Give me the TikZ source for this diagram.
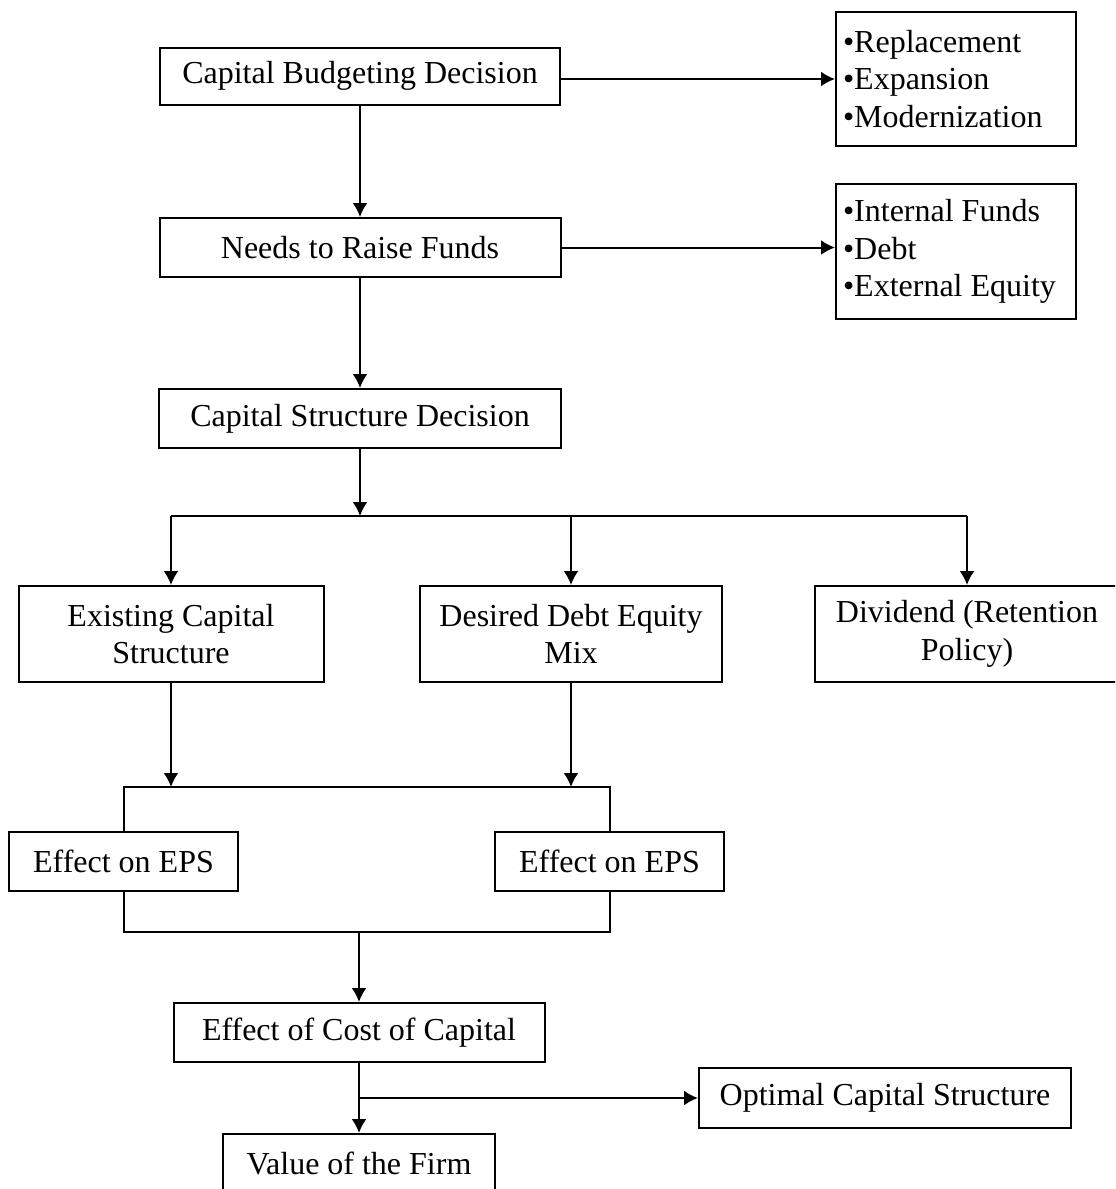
\documentclass[tikz,border=0pt]{standalone}
\usepackage{fontspec}
\setmainfont{Liberation Serif}
\usepackage{tikz}
\usetikzlibrary{shapes,arrows.meta,calc}
\tikzstyle{arrow} = [draw, -{Latex[length=7pt, width=7.5pt]}]
\tikzstyle{line} = [draw]
\tikzstyle{block} = [draw, rectangle, fill=white, align=center, minimum height=29.5pt, inner sep=2pt]
\tikzstyle{listblock} = [draw, rectangle, align=flush left, anchor=west, text width=113pt, inner xsep=3.5pt, inner ysep=0pt]

\begin{document}
\begin{tikzpicture}[x=0.5pt, y=-0.5pt, line width=1pt, font=\fontsize{16}{18.75}\selectfont]
      \useasboundingbox (0,0) rectangle (1115,1189);
      \clip (0,0) rectangle (1115,1189);

      % decisions
      \node (cbd) at (360, 76) [block, minimum width=200pt, minimum height=28.5pt] {Capital Budgeting Decision};
      \node (nrf) at (360, 247.5) [block, minimum width=200.5pt] {Needs to Raise Funds};
      \node (csd) at (360, 418.5) [block, minimum width=201pt] {Capital Structure Decision};

      % lists
      \node (types) at (835, 79) [listblock, minimum height=67pt] {•Replacement\\•Expansion\\•Modernization};
      \node (funds) at (835, 251.5) [listblock, minimum height=67.5pt] {•Internal Funds\\•Debt\\•External Equity};

      % three factors
      \node (ecs) at (171, 634) [block, minimum width=152.5pt, minimum height=48pt] {Existing Capital\\Structure};
      \node (dde) at (571, 634) [block, minimum width=151pt, minimum height=48pt] {Desired Debt Equity\\Mix};
      \node (div) at (967, 634) [block, minimum width=152pt, minimum height=48pt] {Dividend (Retention\\Policy)};

      \node (eps1) at (123.5, 861.5) [block, minimum width=114.5pt] {Effect on EPS};
      \node (eps2) at (609.5, 861.5) [block, minimum width=114.5pt] {Effect on EPS};

      \node (cost) at (359, 1032.5) [block, minimum width=185.5pt] {Effect of Cost of Capital};
      \node (opt) at (885, 1098) [block, minimum width=186pt, minimum height=30pt] {Optimal Capital Structure};
      \node (val) at (359, 1163) [block, minimum width=136pt, minimum height=29pt] {Value of the Firm};

      \coordinate (split) at (360, 516);
      \coordinate (brtop) at (360, 787);
      \coordinate (brbot) at (359, 932);

      \path[arrow] (cbd.east |- types.west) -- (types.west);
      \path[arrow] (nrf.east) -- (nrf.east -| funds.west);
      \path[arrow] (cbd.south) -- (nrf.north);
      \path[arrow] (nrf.south) -- (csd.north);
      \path[arrow] (csd.south) -- (split);
      \path[line] (split -| ecs.north) -- (split -| div.north);
      \path[arrow] (split -| ecs.north) -- (ecs.north);
      \path[arrow] (split -| dde.north) -- (dde.north);
      \path[arrow] (split -| div.north) -- (div.north);

      % bracket round the EPS boxes
      \path[line] (eps1.north) -- (eps1.north |- brtop) -- (eps2.north |- brtop) -- (eps2.north);
      \path[line] (eps1.south) -- (eps1.south |- brbot) -- (eps2.south |- brbot) -- (eps2.south);
      \path[arrow] (ecs.south) -- (ecs.south |- brtop);
      \path[arrow] (dde.south) -- (dde.south |- brtop);

      \path[arrow] (brbot) -- (cost.north);
      \path[arrow] (cost.south) -- (val.north);
      \path[arrow] (cost.south |- opt.west) -- (opt.west);
    \end{tikzpicture}
\end{document}
